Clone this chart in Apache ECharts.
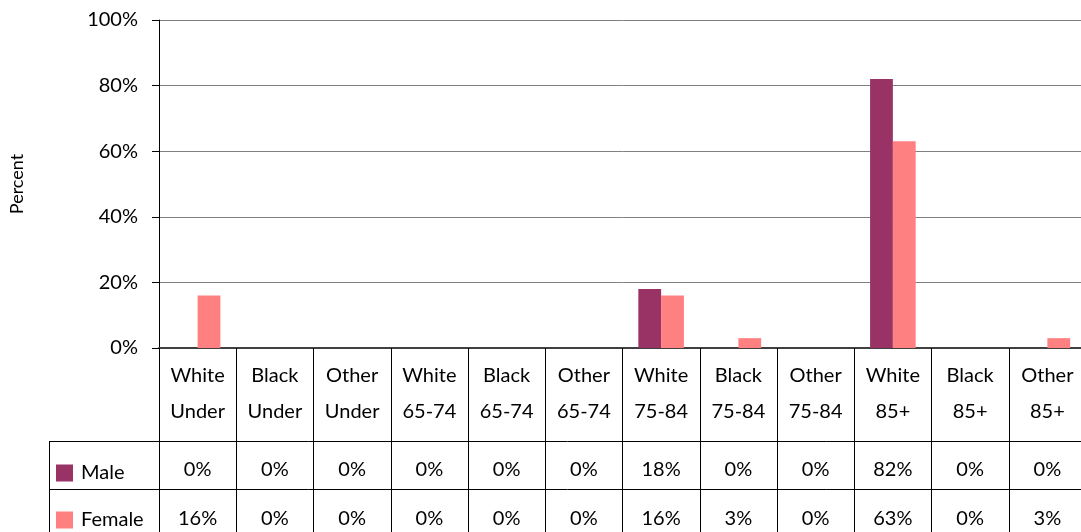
<!DOCTYPE html>
<html>
<head>
<meta charset="utf-8">
<script src="https://cdn.jsdelivr.net/npm/echarts@6/dist/echarts.min.js"></script>
<style>
html,body{margin:0;padding:0;background:#fff;overflow:hidden;}
#c{width:1086px;height:532px;}
</style>
</head>
<body>
<div id="c"></div>
<script>
var categories = ['White\nUnder','Black\nUnder','Other\nUnder','White\n65-74','Black\n65-74','Other\n65-74','White\n75-84','Black\n75-84','Other\n75-84','White\n85+','Black\n85+','Other\n85+'];
var maleValues = [0,0,0,0,0,0,18,0,0,82,0,0];
var femaleValues = [16,0,0,0,0,0,16,3,0,63,0,3];
var yTicks = [0,20,40,60,80,100];
var seriesNames = ['Male','Female'];

var FONT = 'Lato';
var legendText = {fontFamily:FONT,fontSize:20,color:'#000',padding:[0,0,0,3]};
var chart = echarts.init(document.getElementById('c'), null, {renderer:'canvas'});
chart.setOption({
  animation:false,
  textStyle:{fontFamily:FONT},
  grid:{left:158,right:0,top:20,bottom:184,containLabel:false},
  legend:[
    {data:[seriesNames[0]],orient:'horizontal',left:56,top:463,itemWidth:17,itemHeight:17,icon:'rect',padding:0,textStyle:legendText,selectedMode:false},
    {data:[seriesNames[1]],orient:'horizontal',left:56,top:510,itemWidth:17,itemHeight:17,icon:'rect',padding:0,textStyle:legendText,selectedMode:false}
  ],
  xAxis:{
    type:'category',
    data:categories,
    boundaryGap:true,
    axisLine:{show:true,lineStyle:{color:'#404040',width:2}},
    axisTick:{show:true,interval:0,length:184,lineStyle:{color:'#000',width:1}},
    axisLabel:{
      interval:0,
      margin:10,
      formatter:function(v,i){
        var p=v.split('\n');
        return '{c|'+p[0]+'}\n{c|'+p[1]+'}\n{m|'+maleValues[i]+'%}\n{f|'+femaleValues[i]+'%}';
      },
      rich:{
        c:{fontFamily:FONT,fontSize:20,color:'#000',lineHeight:36,align:'center'},
        m:{fontFamily:FONT,fontSize:20,color:'#000',lineHeight:80,align:'center'},
        f:{fontFamily:FONT,fontSize:20,color:'#000',lineHeight:18,align:'center'}
      }
    },
    splitLine:{show:false}
  },
  yAxis:{
    type:'value',
    min:yTicks[0], max:yTicks[yTicks.length-1], interval:20,
    name:'Percent',
    nameLocation:'middle',
    nameGap:133,
    nameTextStyle:{fontFamily:FONT,fontSize:18,color:'#000'},
    axisLine:{show:true,lineStyle:{color:'#000',width:1}},
    axisTick:{show:true,length:7,lineStyle:{color:'#000'}},
    axisLabel:{formatter:'{value}%',margin:21,fontFamily:FONT,fontSize:20,color:'#000'},
    splitLine:{show:true,lineStyle:{color:'#808080',width:1}}
  },
  series:[
    {name:seriesNames[0],type:'bar',data:maleValues,barGap:0,barCategoryGap:'41%',itemStyle:{color:'#993366'}},
    {name:seriesNames[1],type:'bar',data:femaleValues,barGap:0,barCategoryGap:'41%',itemStyle:{color:'#FF8080'}}
  ],
  graphic:[
    {type:'line',shape:{x1:49,y1:441.5,x2:1086,y2:441.5},style:{stroke:'#000',lineWidth:1}},
    {type:'line',shape:{x1:49,y1:489.5,x2:1086,y2:489.5},style:{stroke:'#000',lineWidth:1}},
    {type:'line',shape:{x1:49.5,y1:441,x2:49.5,y2:532},style:{stroke:'#000',lineWidth:1}}
  ]
});
</script>
</body>
</html>
